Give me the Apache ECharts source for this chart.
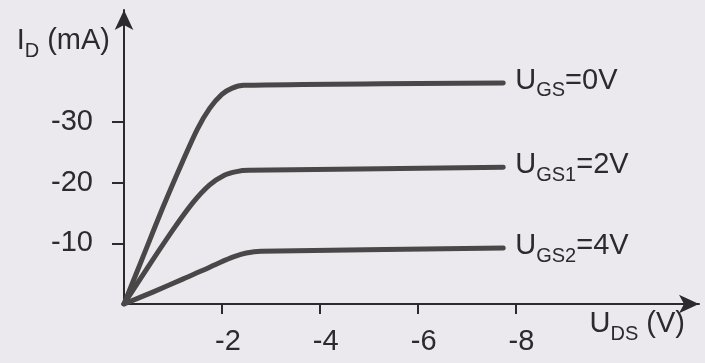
<!DOCTYPE html>
<html>
<head>
<meta charset="utf-8">
<style>
  html, body { margin: 0; padding: 0; background: #ece9ee; }
  #chart { width: 705px; height: 363px; }
</style>
<script src="https://cdn.jsdelivr.net/npm/echarts@6/dist/echarts.min.js"></script>
</head>
<body>
<div id="chart"></div>
<script>
// tick labels on both axes
const udsTicks = [-2, -4, -6, -8];
const idTicks = [-10, -20, -30];

// output curves, [U_DS (V), I_D (mA)]
const curveGs0 = [[0, 0], [-0.4, -8], [-0.8, -16], [-1.2, -23.5], [-1.5, -28.8], [-1.75, -32.2],
  [-2.0, -34.5], [-2.2, -35.5], [-2.45, -36], [-7.75, -36.4]];
const curveGs1 = [[0, 0], [-0.5, -6.2], [-1.0, -12.2], [-1.4, -16.6], [-1.75, -19.6], [-2.05, -21.2],
  [-2.3, -21.8], [-2.55, -22], [-7.75, -22.5]];
const curveGs2 = [[0, 0], [-0.6, -2.0], [-1.2, -4.1], [-1.6, -5.5], [-1.95, -6.8], [-2.25, -7.8],
  [-2.5, -8.4], [-2.8, -8.7], [-7.75, -9.2]];

const curveNames = ['{m|U}{s|GS}{m|=0V}', '{m|U}{s|GS1}{m|=2V}', '{m|U}{s|GS2}{m|=4V}'];

const ink = '#2b2a2e';
const font = 'Liberation Sans';
const rich = {
  m: {fontSize: 29, fontFamily: font, color: ink, lineHeight: 40},
  s: {fontSize: 20, fontFamily: font, color: ink, lineHeight: 20, verticalAlign: 'bottom'}
};

const chart = echarts.init(document.getElementById('chart'));

const makeSeries = (data, label) => ({
  type: 'line',
  data: data,
  smooth: 0.3,
  symbol: 'none',
  lineStyle: {color: '#4a4749', width: 5, cap: 'round', join: 'round'},
  endLabel: {
    show: true,
    formatter: label,
    align: 'left',
    distance: 0,
    offset: [12, -2],
    rich: rich
  }
});

chart.setOption({
  animation: false,
  backgroundColor: '#ece9ee',
  grid: {left: 124, right: 6, top: 10, bottom: 59},
  xAxis: {
    type: 'value',
    min: -11.75,
    max: 0,
    inverse: true,
    name: '{m|U}{s|DS}{m| (V)}',
    nameLocation: 'start',
    nameGap: -14,
    nameTextStyle: {align: 'right', verticalAlign: 'top', rich: rich},
    axisLine: {
      show: true,
      symbol: ['none', 'arrow'],
      symbolSize: [14, 20],
      lineStyle: {color: ink, width: 2}
    },
    axisTick: {show: true, customValues: udsTicks, length: 10, lineStyle: {color: ink, width: 2}},
    axisLabel: {
      customValues: udsTicks,
      margin: 23,
      padding: [0, 0, 0, 12],
      fontSize: 29,
      fontFamily: font,
      color: ink
    },
    splitLine: {show: false}
  },
  yAxis: {
    type: 'value',
    min: -48.4,
    max: 0,
    inverse: true,
    name: '{m|I}{s|D}{m| (mA)}',
    nameLocation: 'start',
    nameGap: -31,
    nameTextStyle: {align: 'right', verticalAlign: 'middle', padding: [0, 14, 0, 0], rich: rich},
    axisLine: {
      show: true,
      symbol: ['none', 'arrow'],
      symbolSize: [14, 20],
      lineStyle: {color: ink, width: 2}
    },
    axisTick: {show: true, customValues: idTicks, length: 12, lineStyle: {color: ink, width: 2}},
    axisLabel: {
      customValues: idTicks,
      margin: 31,
      fontSize: 29,
      fontFamily: font,
      color: ink
    },
    splitLine: {show: false}
  },
  series: [
    makeSeries(curveGs0, curveNames[0]),
    makeSeries(curveGs1, curveNames[1]),
    makeSeries(curveGs2, curveNames[2])
  ]
});
</script>
</body>
</html>
